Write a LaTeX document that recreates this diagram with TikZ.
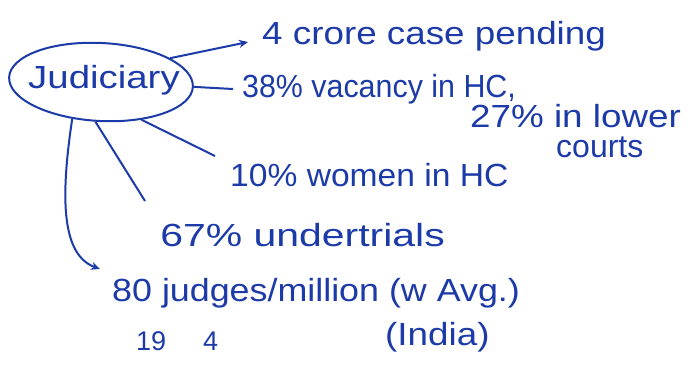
\documentclass[tikz,border=0pt]{standalone}
\usepackage{fontspec}
\setmainfont{Liberation Sans}
\usetikzlibrary{arrows.meta,shapes.geometric}
\definecolor{ink}{RGB}{28,58,168}
\begin{document}
\begin{tikzpicture}[x=1pt,y=-1pt,
  note/.style={text=ink,font=\fontsize{32}{36}\selectfont,anchor=west,inner sep=0pt},
  small/.style={text=ink,font=\fontsize{27}{30}\selectfont,anchor=west,inner sep=0pt},
  link/.style={draw=ink,line width=2pt},
  tip/.style={-{Stealth[length=9pt,width=8pt]}}]
\useasboundingbox (0,0) rectangle (687,367);
\node[draw=ink,line width=2pt,ellipse,minimum width=184pt,minimum height=78pt,inner sep=0pt,rotate=-3] (jud) at (101,82) {};
\node[text=ink,font=\fontsize{32}{36}\selectfont,xscale=1.2,inner sep=0pt] (judt) at (104,80) {Judiciary};
\node[note,xscale=1.15] (crore) at (262,36) {4 crore case pending};
\node[note,xscale=0.95] (vac) at (242,89) {38\% vacancy in HC,};
\node[note,xscale=1.15] (low) at (470,116) {27\% in lower};
\node[note] (cts) at (556,147) {courts};
\node[note,xscale=1.05] (wom) at (230,175) {10\% women in HC};
\node[note,xscale=1.28] (und) at (160,235) {67\% undertrials};
\node[note,xscale=1.12] (jpm) at (112,293) {80 judges/million (w Avg.)};
\node[small] (n19) at (136,341) {19};
\node[small] (n4) at (203,341) {4};
\node[note,xscale=1.15] (ind) at (385,337) {(India)};
\coordinate (c1) at (248,42);
\draw[link,tip] (jud.22) -- (c1);
\draw[link] (jud.east) -- ([xshift=-9pt]vac.west);
\draw[link] (jud.-40) -- ([xshift=-15pt,yshift=19pt]wom.west);
\draw[link] (jud.-95) -- ([xshift=-15pt,yshift=34pt]und.west);
\draw[link,tip] (jud.-125) .. controls (60,200) and (62,255) .. ([xshift=-12pt,yshift=24pt]jpm.west);
\end{tikzpicture}
\end{document}
